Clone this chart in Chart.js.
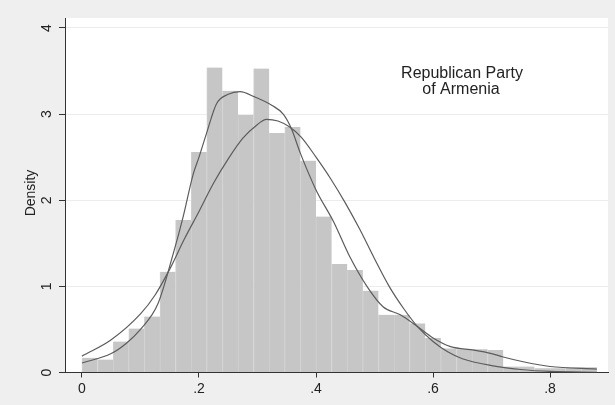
<!DOCTYPE html>
<html>
<head>
<meta charset="utf-8">
<script src="https://cdn.jsdelivr.net/npm/chart.js@4/dist/chart.umd.min.js"></script>
<style>
  html, body { margin: 0; padding: 0; background: #efefef; }
  #wrap { width: 615px; height: 405px; }
</style>
</head>
<body>
<div id="wrap"><canvas id="c" width="615" height="405"></canvas></div>
<script>
// Histogram of vote share with two density curves
const binWidth = 0.88 / 33;
const binHeights = [
  0.17, 0.15, 0.36, 0.51, 0.65, 1.17, 1.77, 2.56, 3.54, 3.27, 2.99,
  3.53, 2.78, 2.85, 2.46, 1.81, 1.26, 1.19, 0.95, 0.67, 0.67, 0.57,
  0.40, 0.28, 0.27, 0.27, 0.26, 0.07, 0.07, 0.05, 0.05, 0.06, 0.06
];

// normal density curve
const normalX = [0, 0.05, 0.1, 0.125, 0.15, 0.175, 0.2, 0.225, 0.25, 0.275, 0.3, 0.315, 0.335, 0.355, 0.375, 0.4, 0.425, 0.45, 0.475, 0.5, 0.525, 0.55, 0.575, 0.6, 0.625, 0.65, 0.7, 0.75, 0.8, 0.88];
const normalY = [0.19, 0.38, 0.68, 0.9, 1.2, 1.55, 1.87, 2.2, 2.48, 2.72, 2.88, 2.94, 2.92, 2.85, 2.73, 2.5, 2.25, 1.97, 1.66, 1.32, 1.0, 0.74, 0.52, 0.36, 0.24, 0.16, 0.08, 0.035, 0.012, 0.003];

// kernel density curve
const kernelX = [0, 0.05, 0.076, 0.1, 0.13, 0.156, 0.173, 0.19, 0.2, 0.213, 0.23, 0.25, 0.27, 0.295, 0.325, 0.344, 0.358, 0.373, 0.4, 0.43, 0.458, 0.487, 0.515, 0.544, 0.572, 0.6, 0.63, 0.67, 0.7, 0.72, 0.754, 0.8, 0.88];
const kernelY = [0.11, 0.22, 0.34, 0.5, 0.8, 1.38, 1.81, 2.3, 2.5, 2.78, 3.12, 3.23, 3.26, 3.2, 3.1, 3.0, 2.83, 2.55, 2.12, 1.75, 1.34, 1.0, 0.76, 0.67, 0.54, 0.40, 0.3, 0.26, 0.22, 0.18, 0.125, 0.07, 0.04];

const xTickValues = [0, 0.2, 0.4, 0.6, 0.8];
const xTickLabels = ['0', '.2', '.4', '.6', '.8'];
const yTickValues = [0, 1, 2, 3, 4];
const yTickLabels = ['0', '1', '2', '3', '4'];
const yTitle = 'Density';
const noteLines = ['Republican Party', 'of Armenia'];

const FONT = '"Liberation Sans", Arial, sans-serif';

const pairs = (xs, ys) => xs.map((x, i) => ({ x: x, y: ys[i] }));
const bars = binHeights.map((h, i) => ({ x: (i + 0.5) * binWidth, y: h }));

const backdrop = {
  id: 'backdrop',
  beforeDraw(chart) {
    const { ctx, chartArea: a } = chart;
    ctx.save();
    ctx.fillStyle = '#efefef';
    ctx.fillRect(0, 0, chart.width, chart.height);
    ctx.fillStyle = '#ffffff';
    ctx.fillRect(a.left, a.top, a.right - a.left, a.bottom - a.top);
    ctx.restore();
  }
};

const labels = {
  id: 'labels',
  afterDraw(chart) {
    const { ctx } = chart;
    const y = chart.scales.y;
    ctx.save();
    ctx.fillStyle = '#222';
    ctx.textAlign = 'center';
    ctx.textBaseline = 'middle';
    ctx.font = '14px ' + FONT;
    yTickValues.forEach((v, i) => {
      const py = y.getPixelForValue(v);
      ctx.save();
      ctx.translate(47, py);
      ctx.rotate(-Math.PI / 2);
      ctx.fillText(yTickLabels[i], 0, 0);
      ctx.restore();
    });
    ctx.save();
    ctx.translate(31, 193);
    ctx.rotate(-Math.PI / 2);
    ctx.font = '14px ' + FONT;
    ctx.fillText(yTitle, 0, 0);
    ctx.restore();
    ctx.font = '16px ' + FONT;
    ctx.textBaseline = 'alphabetic';
    ctx.fillText(noteLines[0], 462, 78);
    ctx.fillText(noteLines[1], 461, 94);
    ctx.restore();
  }
};

new Chart(document.getElementById('c'), {
  type: 'bar',
  data: {
    datasets: [
      {
        type: 'line',
        data: pairs(kernelX, kernelY),
        borderColor: '#5c5c5c',
        borderWidth: 1.2,
        pointRadius: 0,
        cubicInterpolationMode: 'monotone',
        order: 1
      },
      {
        type: 'line',
        data: pairs(normalX, normalY),
        borderColor: '#5c5c5c',
        borderWidth: 1.2,
        pointRadius: 0,
        cubicInterpolationMode: 'monotone',
        order: 1
      },
      {
        type: 'bar',
        data: bars,
        backgroundColor: '#c6c6c6',
        borderColor: '#d0d0d0',
        borderWidth: { left: 1, right: 0, top: 0, bottom: 0 },
        barPercentage: 1,
        categoryPercentage: 1,
        order: 3
      }
    ]
  },
  options: {
    responsive: false,
    animation: false,
    devicePixelRatio: 1,
    layout: { padding: { top: 18, right: 7, left: 0, bottom: 0 } },
    plugins: { legend: { display: false }, tooltip: { enabled: false } },
    scales: {
      x: {
        type: 'linear',
        offset: false,
        min: -0.029,
        max: 0.899,
        afterBuildTicks(s) { s.ticks = xTickValues.map(v => ({ value: v })); },
        afterFit(s) { s.height = 32.5; },
        ticks: {
          callback(v) { const i = xTickValues.indexOf(v); return i >= 0 ? xTickLabels[i] : ''; },
          color: '#222',
          font: { family: FONT, size: 14 },
          padding: 3,
          maxRotation: 0
        },
        grid: { offset: false, drawOnChartArea: false, drawTicks: true, tickLength: 5, tickColor: '#333' },
        border: { display: true, color: '#333', width: 1 }
      },
      y: {
        min: 0,
        max: 4.116,
        afterBuildTicks(s) { s.ticks = yTickValues.map(v => ({ value: v })); },
        afterFit(s) { s.width = 65; },
        ticks: { display: false },
        grid: { offset: false, color: '#ececec', lineWidth: 1, drawTicks: true, tickLength: 6, tickColor: '#333' },
        border: { display: true, color: '#333', width: 1 }
      }
    }
  },
  plugins: [backdrop, labels]
});
</script>
</body>
</html>
